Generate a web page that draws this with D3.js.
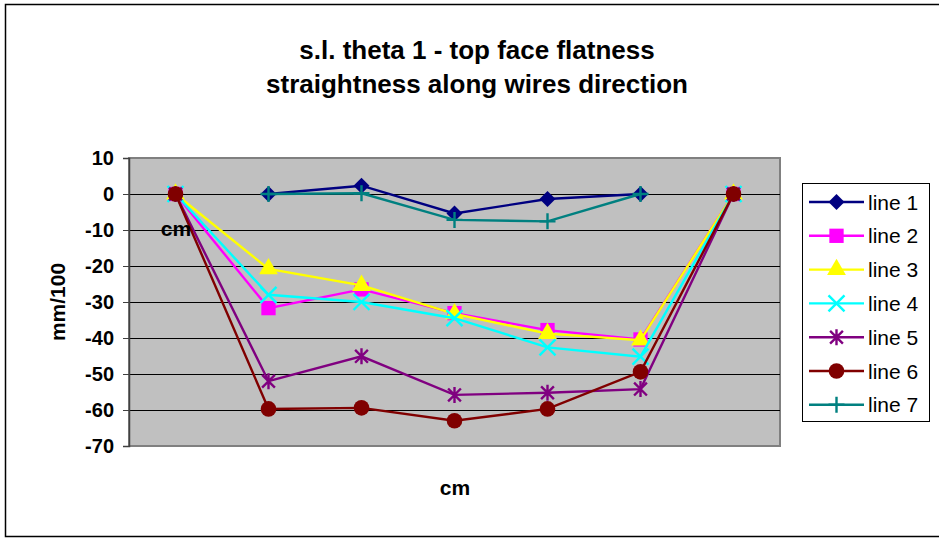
<!DOCTYPE html>
<html>
<head>
<meta charset="utf-8">
<script src="https://cdn.jsdelivr.net/npm/d3@7"></script>
<style>
body { margin: 0; background: #fff; }
text { font-family: "Liberation Sans", Arial, sans-serif; }
</style>
</head>
<body>
<svg width="939" height="538"></svg>
<script>
// x categories (no tick labels shown)
var categories = [1, 2, 3, 4, 5, 6, 7];
var yTicks = [10, 0, -10, -20, -30, -40, -50, -60, -70];

var line1 = [null, 0, 2.3, -5.4, -1.4, 0, null];
var line2 = [0, -31.7, -26.5, -33.1, -37.8, -40.4, 0];
var line3 = [0, -20.8, -25.4, -33.3, -38.8, -40.6, 0];
var line4 = [0, -28, -30, -34.5, -42.6, -45.2, 0];
var line5 = [0, -52, -45.1, -55.8, -55.2, -54.2, 0];
var line6 = [0, -59.7, -59.4, -63, -59.7, -49.4, 0];
var line7 = [null, 0, 0.2, -7.2, -7.6, 0, null];

var names = ['line 1', 'line 2', 'line 3', 'line 4', 'line 5', 'line 6', 'line 7'];
var colors = ['#000080', '#ff00ff', '#ffff00', '#00ffff', '#800080', '#800000', '#008080'];
var markers = ['diamond', 'square', 'triangle', 'x', 'star', 'circle', 'plus'];

var series = [line1, line2, line3, line4, line5, line6, line7].map(function(v, i) {
    return { name: names[i], color: colors[i], marker: markers[i], values: v };
});

const svg = d3.select('svg');

// outer chart border
svg.append('rect')
    .attr('x', 5.5).attr('y', 4.5)
    .attr('width', 945).attr('height', 532)
    .attr('fill', 'none')
    .attr('stroke', '#000')
    .attr('stroke-width', 1.5);

const pLeft = 129, pTop = 158, pRight = 780, pBottom = 446;

const xScale = d3.scaleBand()
    .range([pLeft, pRight])
    .domain(categories);

const yScale = d3.scaleLinear()
    .range([pBottom, pTop])
    .domain([-70, 10]);

// plot area
svg.append('rect')
    .attr('x', pLeft).attr('y', pTop)
    .attr('width', pRight - pLeft).attr('height', pBottom - pTop)
    .attr('fill', '#c0c0c0')
    .attr('stroke', '#808080')
    .attr('stroke-width', 2);

// grid
svg.append('g')
    .attr('transform', `translate(${pLeft}, 0)`)
    .call(d3.axisRight(yScale)
        .tickValues(yTicks.slice(1, -1))
        .tickSize(pRight - pLeft)
        .tickFormat(''))
    .call(g => g.select('.domain').remove())
    .selectAll('line').attr('stroke', '#000').attr('stroke-width', 1.2);

// y axis
const yAxis = svg.append('g')
    .attr('transform', `translate(${pLeft}, 0)`)
    .call(d3.axisLeft(yScale).tickValues(yTicks).tickSize(6).tickPadding(9)
        .tickFormat(d => String(d)));
yAxis.select('.domain').attr('stroke', '#404040').attr('stroke-width', 1.5);
yAxis.selectAll('line').attr('stroke', '#404040');
yAxis.selectAll('text')
    .style('font-family', '"Liberation Sans", Arial, sans-serif')
    .style('font-size', '20px')
    .style('font-weight', 'bold')
    .attr('fill', '#000');

function markerPath(type, s) {
    var h = s / 2;
    if (type === 'diamond') return `M0,${-h}L${h},0L0,${h}L${-h},0Z`;
    if (type === 'square') return d3.symbol(d3.symbolSquare, s * s * 0.8)();
    if (type === 'triangle') return d3.symbol(d3.symbolTriangle, s * s * 0.6)();
    if (type === 'circle') return d3.symbol(d3.symbolCircle, s * s * 0.75)();
    if (type === 'x') return `M${-h},${-h}L${h},${h}M${-h},${h}L${h},${-h}`;
    if (type === 'plus') return `M${-h},0L${h},0M0,${-h}L0,${h}`;
    if (type === 'star') {
        var a = h * 0.8;
        return `M${-a},${-a}L${a},${a}M${-a},${a}L${a},${-a}M0,${-h}L0,${h}`;
    }
}
function isStroke(type) { return type === 'x' || type === 'plus' || type === 'star'; }

const line = d3.line()
    .defined(d => d.v !== null)
    .x(d => xScale(d.c) + xScale.bandwidth() / 2)
    .y(d => yScale(d.v));

series.forEach(function(s) {
    var pts = s.values.map((v, i) => ({ c: categories[i], v: v }));
    var g = svg.append('g');
    g.append('path')
        .attr('d', line(pts))
        .attr('fill', 'none')
        .attr('stroke', s.color)
        .attr('stroke-width', 2.4);
    g.selectAll('path.m')
        .data(pts.filter(d => d.v !== null))
        .enter()
        .append('path')
        .attr('class', 'm')
        .attr('transform', d => `translate(${xScale(d.c) + xScale.bandwidth() / 2}, ${yScale(d.v)})`)
        .attr('d', markerPath(s.marker, 16))
        .attr('fill', isStroke(s.marker) ? 'none' : s.color)
        .attr('stroke', s.color)
        .attr('stroke-width', isStroke(s.marker) ? 2.4 : 0);
});

// misplaced axis title inside plot
svg.append('text')
    .attr('x', 176).attr('y', 236)
    .attr('text-anchor', 'middle')
    .style('font-size', '21px').style('font-weight', 'bold')
    .text('cm');

// x axis title
svg.append('text')
    .attr('x', 455).attr('y', 495)
    .attr('text-anchor', 'middle')
    .style('font-size', '21px').style('font-weight', 'bold')
    .text('cm');

// y axis title
svg.append('text')
    .attr('transform', 'translate(65, 302) rotate(-90)')
    .attr('text-anchor', 'middle')
    .style('font-size', '21px').style('font-weight', 'bold')
    .text('mm/100');

// title
svg.append('text')
    .attr('x', 477).attr('y', 59)
    .attr('text-anchor', 'middle')
    .style('font-size', '26px').style('font-weight', 'bold')
    .text('s.l. theta 1 - top face flatness');
svg.append('text')
    .attr('x', 477).attr('y', 93)
    .attr('text-anchor', 'middle')
    .style('font-size', '26px').style('font-weight', 'bold')
    .text('straightness along wires direction');

// legend
const legend = svg.append('g');
legend.append('rect')
    .attr('x', 802.5).attr('y', 183.5)
    .attr('width', 127).attr('height', 238)
    .attr('fill', '#fff')
    .attr('stroke', '#000');

series.forEach(function(s, i) {
    var y = 202 + i * 33.8;
    legend.append('line')
        .attr('x1', 809).attr('x2', 864)
        .attr('y1', y).attr('y2', y)
        .attr('stroke', s.color).attr('stroke-width', 2.4);
    legend.append('path')
        .attr('transform', `translate(836.5, ${y})`)
        .attr('d', markerPath(s.marker, 16))
        .attr('fill', isStroke(s.marker) ? 'none' : s.color)
        .attr('stroke', s.color)
        .attr('stroke-width', isStroke(s.marker) ? 2.4 : 0);
    legend.append('text')
        .attr('x', 868).attr('y', y + 7.5)
        .style('font-size', '21px')
        .text(s.name);
});
</script>
</body>
</html>
